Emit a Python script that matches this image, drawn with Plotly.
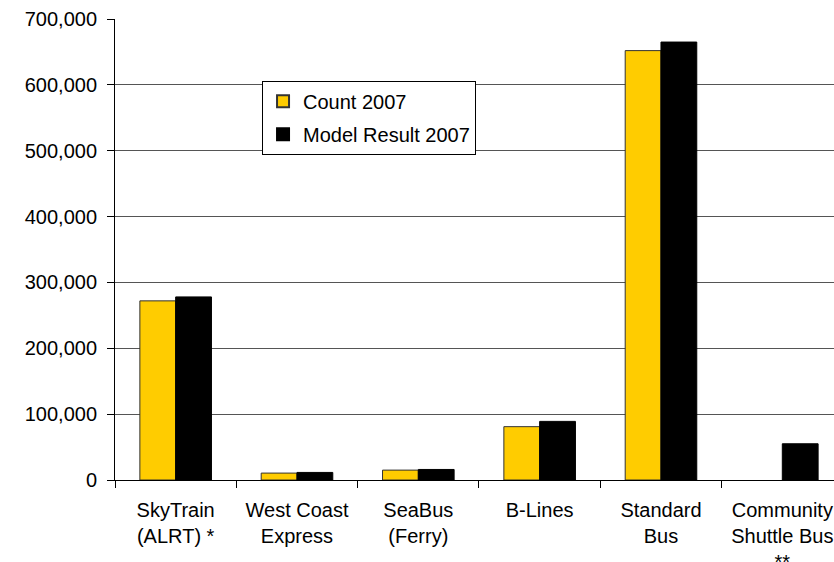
import plotly.graph_objects as go

categories = ["SkyTrain<br>(ALRT) *", "West Coast<br>Express", "SeaBus<br>(Ferry)",
              "B-Lines", "Standard<br>Bus", "Community<br>Shuttle Bus<br>**"]
count_2007 = [272000, 10500, 15000, 81000, 652000, 0]
model_2007 = [278000, 11500, 16000, 89000, 665000, 55000]
y_ticks = [0, 100000, 200000, 300000, 400000, 500000, 600000, 700000]
y_tick_labels = ["0", "100,000", "200,000", "300,000", "400,000", "500,000", "600,000", "700,000"]

FONT = "Liberation Sans, Arial, sans-serif"

fig = go.Figure()
fig.add_trace(go.Bar(
    x=categories, y=count_2007, name="Count 2007", legendgroup="a",
    marker=dict(color="#FFCC00",
                line=dict(color="#333333", width=[1 if v > 0 else 0 for v in count_2007])),
))
fig.add_trace(go.Bar(
    x=categories, y=model_2007, name="Model Result 2007", legendgroup="b",
    marker=dict(color="#000000",
                line=dict(color="#000000", width=[1 if v > 0 else 0 for v in model_2007])),
))

W, H = 834, 562
ml, mr, mt, mb = 115, 0, 19, 82
fig.update_layout(
    width=W, height=H,
    margin=dict(l=ml, r=mr, t=mt, b=mb, pad=0, autoexpand=False),
    paper_bgcolor="white", plot_bgcolor="white",
    barmode="group", bargap=0.41, bargroupgap=0,
    font=dict(family=FONT, size=20, color="#000000"),
    showlegend=True,
    legend=dict(
        x=0.2045, y=0.866, xanchor="left", yanchor="top",
        bgcolor="white", bordercolor="#000000", borderwidth=1,
        font=dict(family=FONT, size=20, color="#000000"),
        traceorder="grouped", tracegroupgap=4, itemsizing="constant",
    ),
    xaxis=dict(
        type="category", range=[-0.5, 5.426], automargin=False,
        showline=True, linecolor="#000000", linewidth=1,
        ticks="outside", tickson="boundaries", ticklen=7, tickcolor="#000000",
        showgrid=False, zeroline=False,
        tickfont=dict(family=FONT, size=20, color="#000000"),
        ticklabelstandoff=12,
    ),
    yaxis=dict(
        range=[0, 700000], tickvals=y_ticks, ticktext=y_tick_labels, automargin=False,
        showline=True, linecolor="#000000", linewidth=1,
        ticks="outside", ticklen=7, tickcolor="#000000",
        showgrid=True, gridcolor="#555555", gridwidth=1, zeroline=False,
        tickfont=dict(family=FONT, size=20, color="#000000"),
        ticklabelstandoff=6,
    ),
)

fig.write_html("out.html", config={"displayModeBar": False},
               post_script="document.body.style.margin='0px';")
